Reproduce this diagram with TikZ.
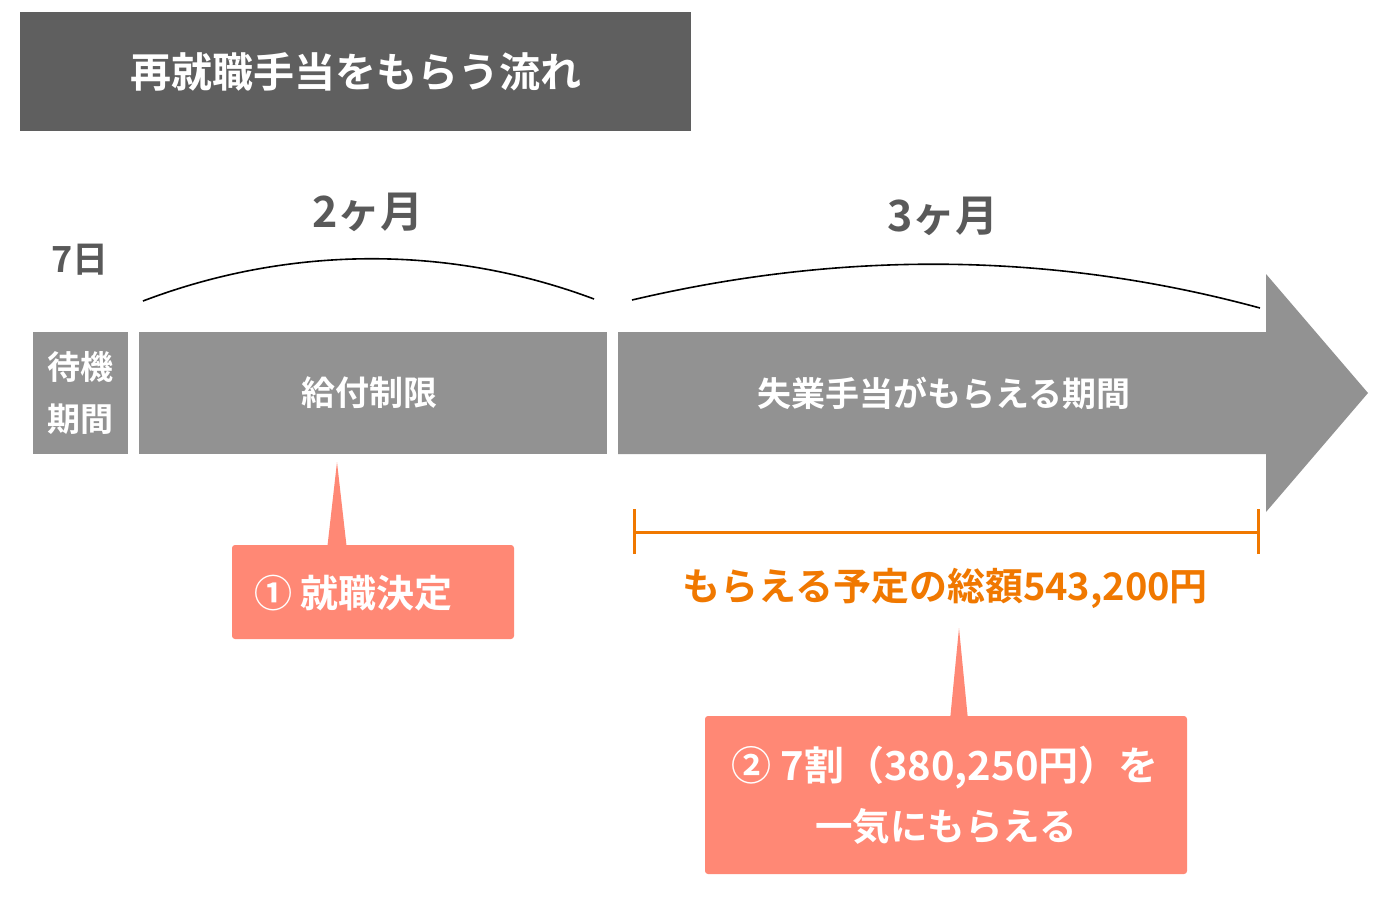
\documentclass[tikz,border=0pt]{standalone}
\usepackage{fontspec}
\setmainfont{Noto Sans CJK JP}[BoldFont={* Bold}]
\definecolor{titlebg}{HTML}{5F5F5F}
\definecolor{boxgray}{HTML}{929292}
\definecolor{salmon}{HTML}{FF8875}
\definecolor{orangeC}{HTML}{F07800}
\definecolor{darktext}{HTML}{595959}
\newcommand{\fsz}[1]{\fontsize{#1}{#1}\selectfont\bfseries}
\tikzset{
  graybox/.style={fill=boxgray, draw=none, inner sep=0pt, outer sep=0pt, text=white, align=center},
  labeltext/.style={text=darktext, inner sep=0pt},
  brace/.style={draw=black, line width=1.6pt},
  bracket/.style={draw=orangeC, line width=3pt},
  callout/.style={fill=salmon, draw=none, rounded corners=3pt, inner sep=0pt, outer sep=0pt, text=white, align=center}
}
\begin{document}
\begin{tikzpicture}[x=1pt,y=-1pt]
\useasboundingbox (0,0) rectangle (1380,903);
% title
\node[fill=titlebg, minimum width=671, minimum height=119, inner sep=0pt, text=white, font=\fsz{41}] (title) at (355.5,71.5) {再就職手当をもらう流れ};
% duration labels
\node[labeltext, font=\fsz{43}] (two) at (368,212) {2ヶ月};
\node[labeltext, font=\fsz{43}] (three) at (943,216) {3ヶ月};
\node[labeltext, font=\fsz{36}] (seven) at (80,260) {7日};
% braces
\coordinate (b1s) at (143,301);
\coordinate (b1e) at (594,299);
\coordinate (b2s) at (632,300);
\coordinate (b2e) at (1260,308);
\draw[brace] (b1s) .. controls (290,245) and (450,245) .. (b1e);
\draw[brace] (b2s) .. controls (840,251) and (1050,251) .. (b2e);
% boxes
\node[graybox, minimum width=95, minimum height=122, font={\fontsize{33}{52}\selectfont\bfseries}] (wait) at (80.5,393) {待機\\期間};
\node[graybox, minimum width=468, minimum height=122] (limit) at (373,393) {};
\node[text=white, inner sep=0pt, font=\fsz{34}] (limitt) at (369,393) {給付制限};
% arrow
\fill[boxgray] (618,332) -- (1266,332) -- (1266,274) -- (1368,393) -- (1266,512) -- (1266,454) -- (618,454) -- cycle;
\node[text=white, inner sep=0pt, font=\fsz{34}] (period) at (944,393) {失業手当がもらえる期間};
% orange bracket
\coordinate (bl) at (634,532);
\coordinate (br) at (1258,532);
\draw[bracket] (bl) -- (br);
\draw[bracket] ([yshift=-22]bl) -- ([yshift=23]bl);
\draw[bracket] ([yshift=-22]br) -- ([yshift=23]br);
\node[text=orangeC, inner sep=0pt, font=\fsz{38}] (total) at (945,588) {もらえる予定の総額543,200円};
% callout 1
\coordinate (tip1) at (337,462);
\fill[salmon] (tip1) -- (347,550) -- (327,550) -- cycle;
\node[callout, minimum width=282, minimum height=94] (c1) at (373,592) {};
\node[text=white, inner sep=0pt, anchor=west, font=\fsz{38}] (c1t) at (254,593) {① 就職決定};
% callout 2
\coordinate (tip2) at (959,628);
\fill[salmon] (tip2) -- (968,720) -- (950,720) -- cycle;
\node[callout, minimum width=482, minimum height=158] (c2) at (946,795) {};
\node[text=white, inner sep=0pt, font=\fsz{40}] (c2a) at (945,768) {② 7割（380,250円）を};
\node[text=white, inner sep=0pt, font=\fsz{37.5}] (c2b) at (946,826) {一気にもらえる};
\end{tikzpicture}
\end{document}
